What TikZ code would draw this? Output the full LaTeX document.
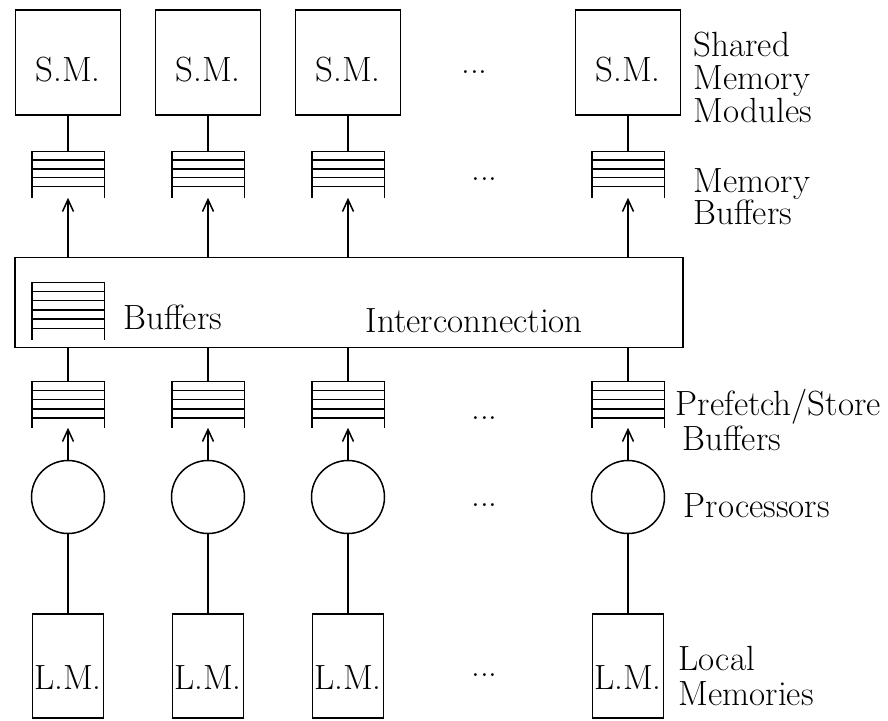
\documentclass[tikz,border=0pt]{standalone}
\usepackage{fontspec}
\usetikzlibrary{arrows.meta,calc}

% text size used throughout the figure
\newcommand\figfont{\fontsize{35}{33}\selectfont\lineskiplimit=-20pt\relax}

% draws a FIFO queue symbol inside a named (invisible) node:
% #1 node name, #2 number of horizontal bars, #3 bar spacing
\newcommand\drawfifo[3]{%
  \draw (#1.north west) -- (#1.south west) (#1.north east) -- (#1.south east);
  \foreach \k in {1,...,#2}
    \draw ([yshift={-(\k-1)*#3}]#1.north west) -- ([yshift={-(\k-1)*#3}]#1.north east);
}

\begin{document}
\begin{tikzpicture}[x=1pt,y=-1pt,line width=1.5pt,
  every node/.style={font=\figfont, inner sep=0pt},
  smbox/.style={draw, rectangle, minimum width=105pt, minimum height=105pt},
  lmbox/.style={draw, rectangle, minimum width=71pt, minimum height=104pt},
  proc/.style={draw, circle, minimum size=73pt},
  fifo/.style={rectangle, minimum width=71pt, minimum height=#1},
  smtext/.style={yshift=-7pt},
  lmtext/.style={yshift=-12pt},
  flow/.style={-{Straight Barb[length=12pt,width=11pt]}},
  side/.style={align=left, anchor=north west}]

\useasboundingbox[fill=white] (0,0) rectangle (888,720);

% interconnection network with its internal buffers
\node[draw, rectangle, minimum width=668pt, minimum height=90pt] (ic) at (349,302.5) {};
\node[fifo=56pt] (icb) at (68,311) {};
\drawfifo{icb}{6}{9.2pt}
\node[anchor=base west] (buflbl) at (123,329) {Buffers};
\node[anchor=base west] (iclbl) at (365,332) {Interconnection};

% one column per processor / memory module
\foreach \i/\x in {1/68, 2/208, 3/348, 4/628} {
  \node[smbox, label={[smtext]center:S.M.}] (sm\i) at (\x,62.5) {};
  \node[fifo=45pt] (mb\i) at (\x,174.5) {};
  \drawfifo{mb\i}{5}{8.8pt}
  \node[fifo=45pt] (pb\i) at (\x,404.5) {};
  \drawfifo{pb\i}{5}{9.2pt}
  \node[proc] (p\i) at (\x,497) {};
  \node[lmbox, label={[lmtext]center:L.M.}] (lm\i) at (\x,666) {};

  \draw (sm\i.south) -- (mb\i.north);
  \draw[flow] (ic.north -| mb\i) -- (mb\i.south);
  \draw (ic.south -| pb\i) -- (pb\i.north);
  \draw[flow] (p\i.north) -- (pb\i.south);
  \draw (lm\i.north) -- (p\i.south);
}

% ellipses standing for the omitted columns
\node[anchor=base] (d1) at (474.5,73) {...};
\node[anchor=base] (d2) at (484.5,180) {...};
\node[anchor=base] (d3) at (484.5,419) {...};
\node[anchor=base] (d4) at (484.5,506) {...};
\node[anchor=base] (d5) at (484.5,676) {...};

% level captions
\node[side] (t1) at (693,31) {Shared\\Memory\\Modules};
\node[side] (t2) at (693,168) {Memory\\[-1pt]Buffers};
\node[side] (t3) at (675,389) {Prefetch/Store\\[2pt]\hspace{7pt}Buffers};
\node[anchor=base west] (t4) at (683,517) {Processors};
\node[side] (t5) at (678,645) {Local\\[2pt]Memories};
\end{tikzpicture}
\end{document}
